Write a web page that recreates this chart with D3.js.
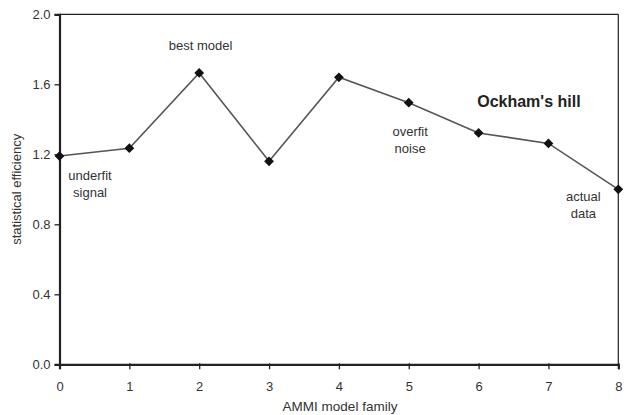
<!DOCTYPE html>
<html><head><meta charset="utf-8">
<script src="https://cdn.jsdelivr.net/npm/d3@7"></script>
<style>body{margin:0;background:#fff}svg{display:block}text{font-family:"Liberation Sans",Arial,sans-serif}</style>
</head><body><svg id="c" width="631" height="415"></svg>
<script>
const families = [0,1,2,3,4,5,6,7,8];
const efficiency = [1.19,1.235,1.665,1.16,1.64,1.495,1.322,1.262,1.0];
const yTicks = [0.0,0.4,0.8,1.2,1.6,2.0];
const annotations = [
  {lines:["best model"], x:2.02, y:1.815},
  {lines:["underfit","signal"], x:0.437, y:1.075},
  {lines:["overfit","noise"], x:5.02, y:1.327},
  {lines:["actual","data"], x:7.5, y:0.955}
];
const svg = d3.select("#c");
const m = {l:59.5, r:618.3, t:14.3, b:364.3};
const x = d3.scaleLinear().domain([0,8]).range([m.l,m.r]);
const y = d3.scaleLinear().domain([0,2]).range([m.b,m.t]);
// frame
svg.append("line").attr("x1",m.l).attr("x2",m.r).attr("y1",m.t).attr("y2",m.t).attr("stroke","#222").attr("stroke-width",1.3);
svg.append("line").attr("x1",m.r).attr("x2",m.r).attr("y1",m.t).attr("y2",m.b).attr("stroke","#222").attr("stroke-width",1.2);
const xa = svg.append("g").attr("transform",`translate(0,${m.b})`).call(d3.axisBottom(x).tickValues(families).tickFormat(d3.format("d")).tickSize(5).tickPadding(12));
const ya = svg.append("g").attr("transform",`translate(${m.l},0)`).call(d3.axisLeft(y).tickValues(yTicks).tickFormat(d3.format(".1f")).tickSize(5).tickPadding(4));
[xa,ya].forEach(a=>{
  a.select(".domain").attr("stroke","#222").attr("stroke-width",2.2);
  a.selectAll(".tick line").attr("stroke","#222").attr("stroke-width",1.3);
  a.selectAll(".tick text").attr("fill","#333").style("font-size","13px").style("font-family","Liberation Sans, Arial, sans-serif");
});
xa.selectAll(".tick line").attr("y1",-1).attr("y2",5);
// line
svg.append("path").datum(families.map((f,i)=>[f,efficiency[i]]))
  .attr("d",d3.line().x(d=>x(d[0])).y(d=>y(d[1])))
  .attr("fill","none").attr("stroke","#555").attr("stroke-width",1.6);
svg.selectAll(".pt").data(families).join("path")
  .attr("d",d3.symbol(d3.symbolSquare,48))
  .attr("transform",(d,i)=>`translate(${x(d)},${y(efficiency[i])}) rotate(45)`)
  .attr("fill","#111");
// annotations
annotations.forEach(a=>{
  a.lines.forEach((t,j)=>{
    svg.append("text").attr("x",x(a.x)).attr("y",y(a.y)+j*17.5).attr("text-anchor","middle")
      .attr("dominant-baseline","middle").attr("fill","#333").style("font-size","13px").text(t);
  });
});
svg.append("text").attr("x",x(6.72)).attr("y",y(1.493)).attr("text-anchor","middle").attr("dominant-baseline","middle")
  .attr("fill","#222").style("font-size","16px").style("font-weight","bold").text("Ockham's hill");
svg.append("text").attr("x",340).attr("y",407.5).attr("text-anchor","middle").attr("dominant-baseline","middle").attr("fill","#333").style("font-size","13.5px").text("AMMI model family");
svg.append("text").attr("transform",`translate(18,${(m.t+m.b)/2}) rotate(-90)`).attr("text-anchor","middle").attr("dominant-baseline","middle").attr("fill","#333").style("font-size","13px").text("statistical efficiency");
</script></body></html>
